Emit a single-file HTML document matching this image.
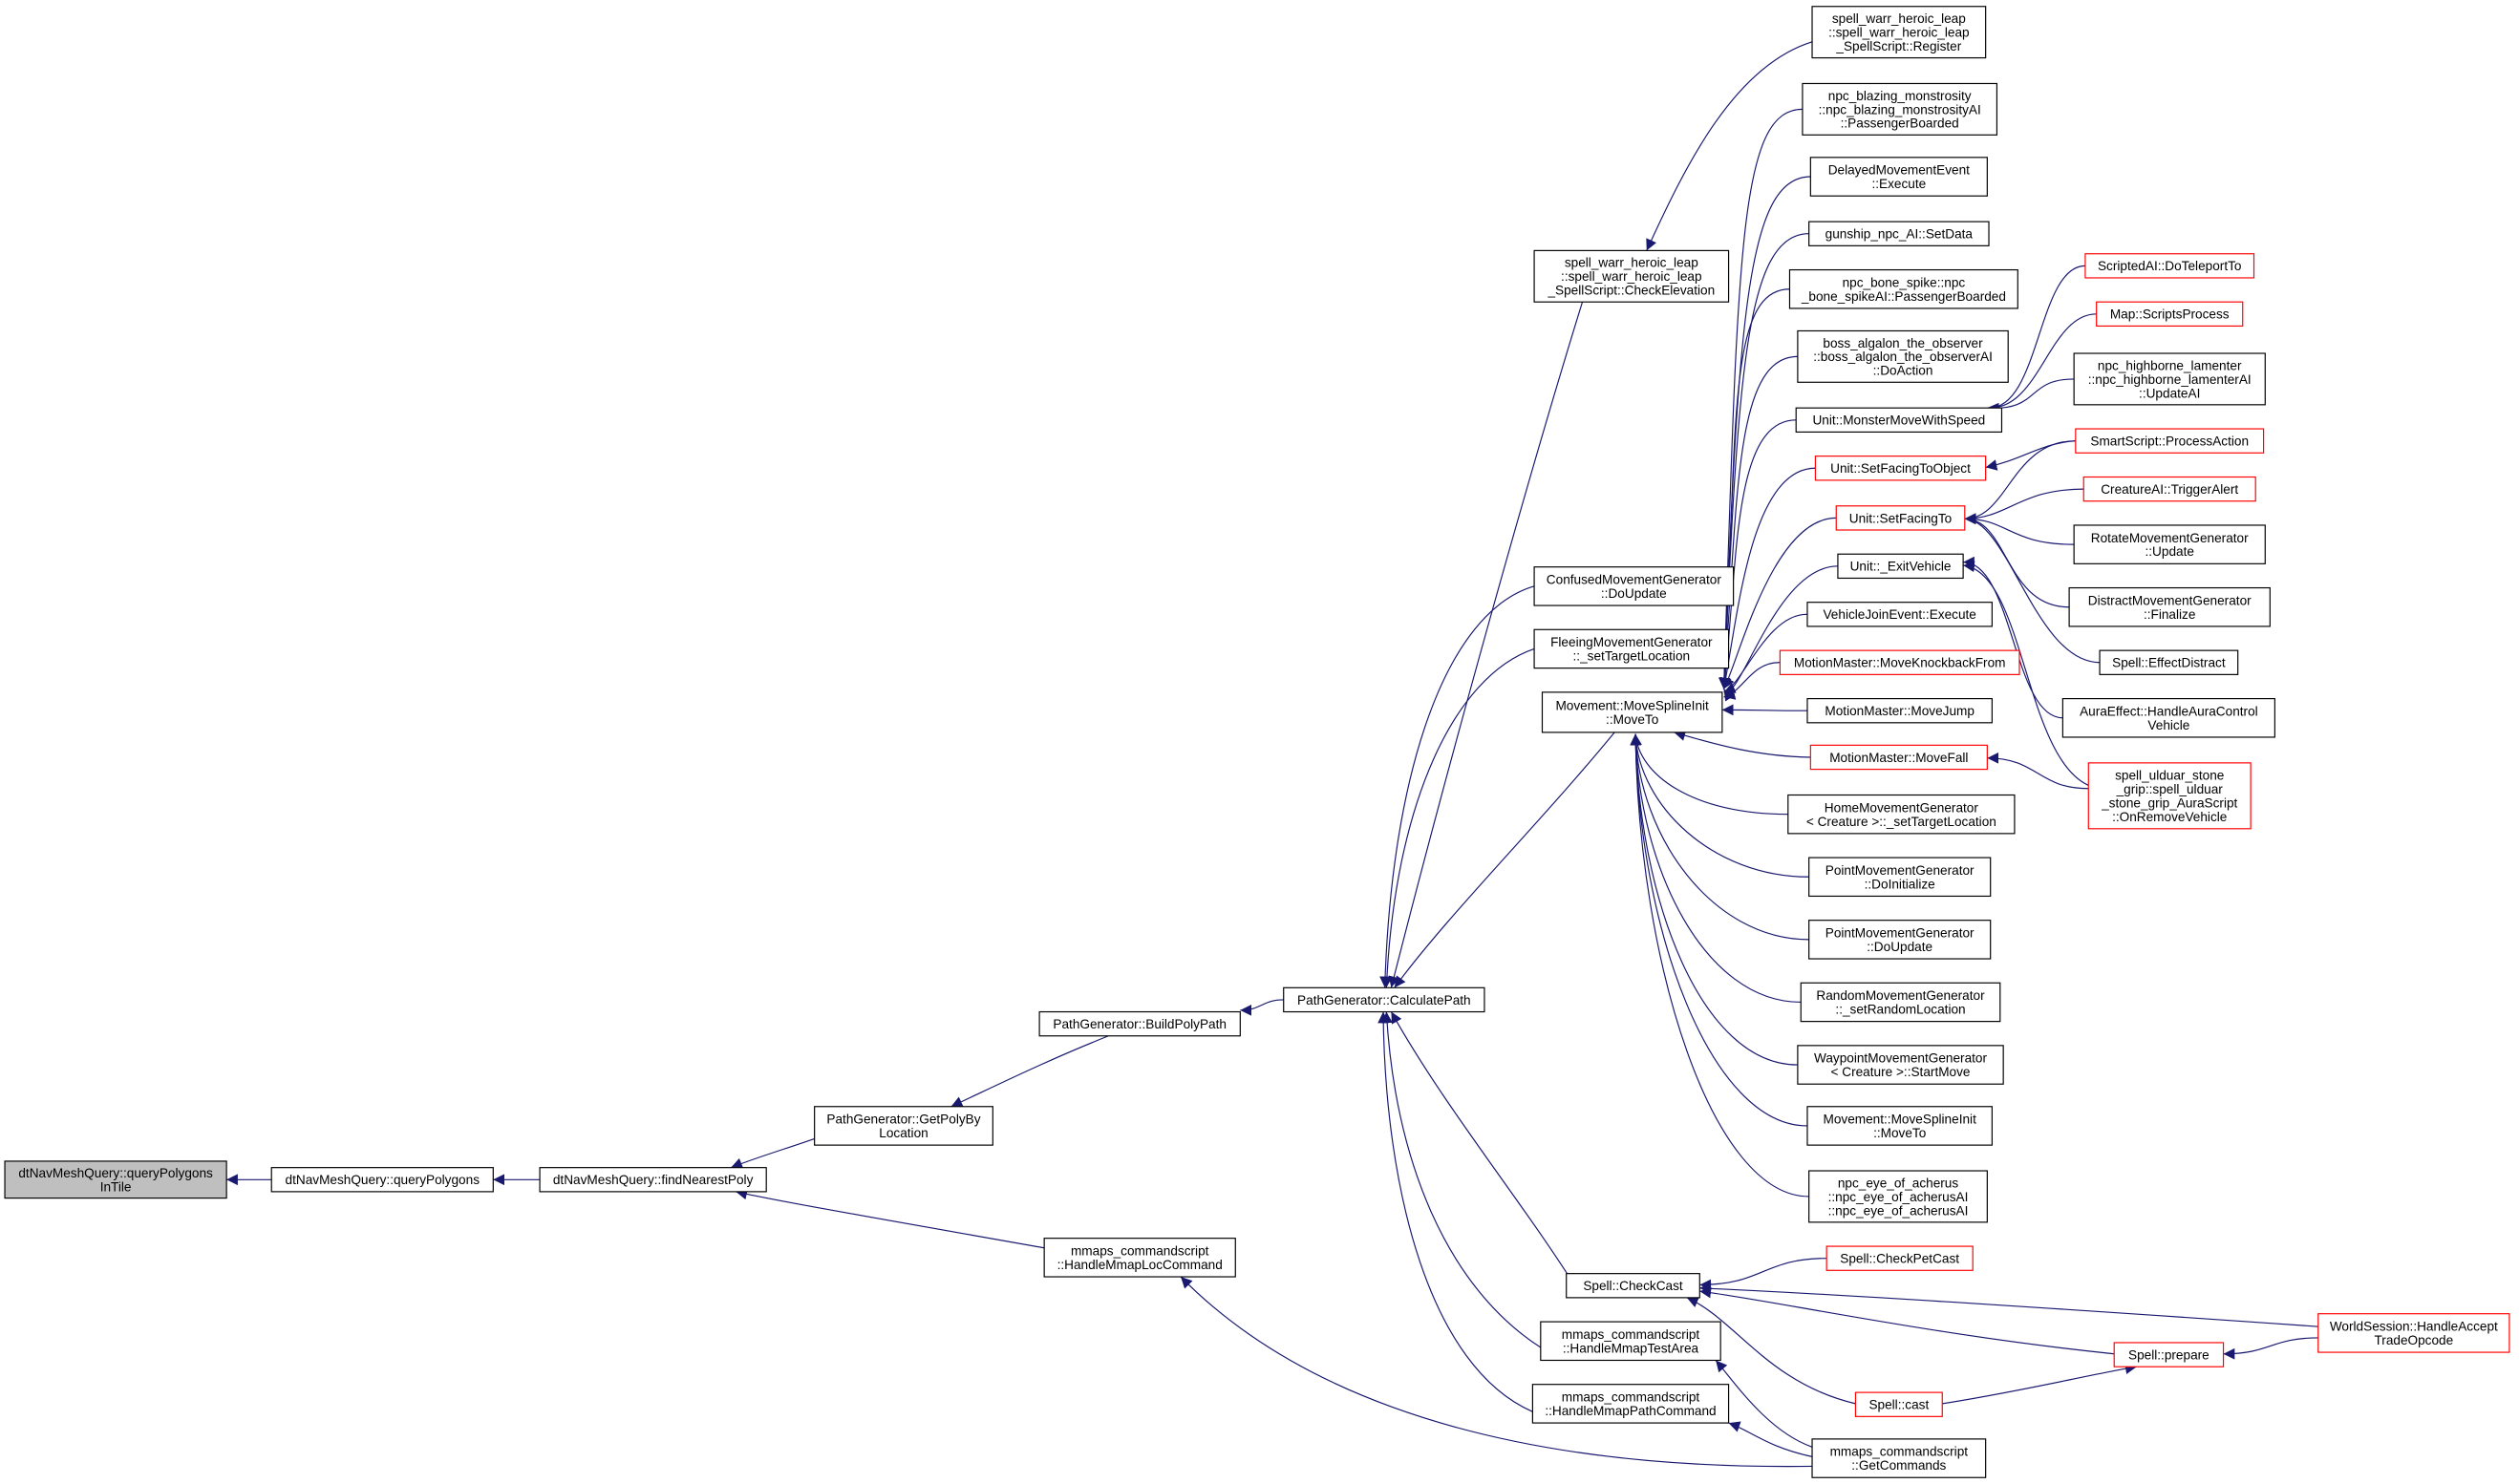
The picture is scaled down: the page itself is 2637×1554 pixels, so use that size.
<!DOCTYPE html>
<html><head><meta charset="utf-8">
<style>
html,body{margin:0;padding:0;background:#fff;}
svg{display:block;}
text{font-family:"Liberation Sans","DejaVu Sans",sans-serif;font-size:8.1px;fill:#000;}
</style></head>
<body>
<svg id="g" width="2637" height="1554" viewBox="0 0 1568 922" xmlns="http://www.w3.org/2000/svg">
<defs>
<marker id="ah" viewBox="0 0 10 10" refX="10" refY="5" markerWidth="7" markerHeight="7" markerUnits="userSpaceOnUse" orient="auto">
<path d="M0,0 L10,5 L0,10 z" fill="#191970"/>
</marker>
</defs>
<g id="edges"></g>
<g id="nodes"></g>
</svg>
<script>
var N={
A:[3,722,141,745,"dtNavMeshQuery::queryPolygons|InTile","g"],
B:[169,726,307,741,"dtNavMeshQuery::queryPolygons"],
C:[336,726,477,741,"dtNavMeshQuery::findNearestPoly"],
D:[507,688,618,712,"PathGenerator::GetPolyBy|Location"],
E:[650,770,769,794,"mmaps_commandscript|::HandleMmapLocCommand"],
F:[647,629,772,644,"PathGenerator::BuildPolyPath"],
G:[799,614,924,629,"PathGenerator::CalculatePath"],
H:[955,155,1076,187,"spell_warr_heroic_leap|::spell_warr_heroic_leap|_SpellScript::CheckElevation"],
I:[955,352,1079,376,"ConfusedMovementGenerator|::DoUpdate"],
J:[955,391,1076,415,"FleeingMovementGenerator|::_setTargetLocation"],
K:[960,430,1072,455,"Movement::MoveSplineInit|::MoveTo"],
L:[975,792,1058,807,"Spell::CheckCast"],
M:[959,822,1071,846,"mmaps_commandscript|::HandleMmapTestArea"],
Nn:[954,861,1076,885,"mmaps_commandscript|::HandleMmapPathCommand"],
O:[1128,3,1236,35,"spell_warr_heroic_leap|::spell_warr_heroic_leap|_SpellScript::Register"],
P:[1122,51,1243,83,"npc_blazing_monstrosity|::npc_blazing_monstrosityAI|::PassengerBoarded"],
Q:[1127,97,1237,121,"DelayedMovementEvent|::Execute"],
R:[1126,137,1238,152,"gunship_npc_AI::SetData"],
S:[1114,167,1256,191,"npc_bone_spike::npc|_bone_spikeAI::PassengerBoarded"],
T:[1119,205,1250,237,"boss_algalon_the_observer|::boss_algalon_the_observerAI|::DoAction"],
U:[1118,253,1246,268,"Unit::MonsterMoveWithSpeed"],
V:[1130,283,1236,298,"Unit::SetFacingToObject","r"],
W:[1143,314,1223,329,"Unit::SetFacingTo","r"],
X:[1144,344,1222,359,"Unit::_ExitVehicle"],
Y:[1125,374,1240,389,"VehicleJoinEvent::Execute"],
Z:[1108,404,1257,419,"MotionMaster::MoveKnockbackFrom","r"],
AA:[1125,434,1240,449,"MotionMaster::MoveJump"],
AB:[1127,463,1237,478,"MotionMaster::MoveFall","r"],
AC:[1113,494,1254,518,"HomeMovementGenerator|< Creature >::_setTargetLocation"],
AD:[1126,533,1239,557,"PointMovementGenerator|::DoInitialize"],
AE:[1126,572,1239,596,"PointMovementGenerator|::DoUpdate"],
AF:[1121,611,1245,635,"RandomMovementGenerator|::_setRandomLocation"],
AG:[1119,650,1247,674,"WaypointMovementGenerator|< Creature >::StartMove"],
AH:[1125,688,1240,712,"Movement::MoveSplineInit|::MoveTo"],
AI:[1126,728,1237,760,"npc_eye_of_acherus|::npc_eye_of_acherusAI|::npc_eye_of_acherusAI"],
AJ:[1137,775,1228,790,"Spell::CheckPetCast","r"],
AK:[1155,866,1209,881,"Spell::cast","r"],
AL:[1128,895,1236,919,"mmaps_commandscript|::GetCommands"],
AM:[1298,157,1403,172,"ScriptedAI::DoTeleportTo","r"],
AN:[1305,187,1396,202,"Map::ScriptsProcess","r"],
AO:[1291,219,1410,251,"npc_highborne_lamenter|::npc_highborne_lamenterAI|::UpdateAI"],
AP:[1292,266,1409,281,"SmartScript::ProcessAction","r"],
AQ:[1297,296,1404,311,"CreatureAI::TriggerAlert","r"],
AR:[1291,326,1410,350,"RotateMovementGenerator|::Update"],
AS:[1288,365,1413,389,"DistractMovementGenerator|::Finalize"],
AT:[1307,404,1393,419,"Spell::EffectDistract"],
AU:[1284,434,1416,458,"AuraEffect::HandleAuraControl|Vehicle"],
AV:[1300,474,1401,515,"spell_ulduar_stone|_grip::spell_ulduar|_stone_grip_AuraScript|::OnRemoveVehicle","r"],
AW:[1316,835,1384,850,"Spell::prepare","r"],
AX:[1443,817,1562,841,"WorldSession::HandleAccept|TradeOpcode","r"]
};
function lm(id){var n=N[id];return [n[0],(n[1]+n[3])/2];}
// edges: [sx,sy,c1x,c1y,c2x,c2y,tx,ty]
var E=[];
function h(s,t){var dx=(s[0]-t[0])*0.5;E.push([s[0],s[1],s[0]-dx,s[1],t[0]+dx,t[1],t[0],t[1]]);}
function c(s,c1,c2,t){E.push([s[0],s[1],c1[0],c1[1],c2[0],c2[1],t[0],t[1]]);}
h(lm('B'),[141,733.5]);
h(lm('C'),[307,733.5]);
c([507,708],[490,714],[470,720],[455,726]);
c([650,776],[560,760],[490,748],[458,741]);
c([690,644],[650,660],[620,675],[592,688]);
h(lm('G'),[772,628]);
// to G top
c([985,187],[950,300],[900,480],[866,614]);
c([955,364],[900,380],[866,480],[862,614]);
c([955,403],[905,420],[868,500],[863,614]);
c([1005,455],[960,510],[900,570],[868,614]);
// to G bottom
c([985,807],[950,750],[900,690],[866,629]);
c([959,838],[900,800],[868,720],[863,629]);
c([954,878],[890,850],[862,740],[861,629]);
c([1128,25],[1080,40],[1050,100],[1025,155]);
// to K top-right
var up=['P','Q','R','S','T','U','V','W','X'];
up.forEach(function(k){var s=lm(k);c(s,[s[0]-40,s[1]],[1082,s[1]+60>420?415:s[1]+90],[1073,428]);});
c(lm('Y'),[1100,381],[1085,425],[1073,430]);
c(lm('Z'),[1090,411],[1085,430],[1073,433]);
h(lm('AA'),[1072,441]);
c(lm('AB'),[1090,470],[1060,460],[1042,455]);
['AC','AD','AE','AF','AG','AH','AI'].forEach(function(k){var s=lm(k);c(s,[s[0]-60,s[1]],[1020,s[1]-(s[1]-456)*0.5],[1018,456]);});
// to U
['AM','AN','AO'].forEach(function(k){var s=lm(k);c(s,[s[0]-30,s[1]],[1270,255],[1237,253]);});
c(lm('AP'),[1270,275],[1260,285],[1236,290]);
['AP','AQ','AR','AS','AT'].forEach(function(k){var s=lm(k);c(s,[s[0]-40,s[1]],[1250,322],[1223,322]);});
c([1300,488],[1260,470],[1260,355],[1222,351]);
h(lm('AU'),[1222,349]);
h([1300,490],[1237,471]);
// to L
h(lm('AJ'),[1058,799]);
c([1443,825],[1300,815],[1150,805],[1058,801]);
c([1316,842],[1200,830],[1100,808],[1058,803]);
c([1155,873],[1100,860],[1080,820],[1050,807]);
h([1443,832],[1384,842]);
c([1209,873],[1260,865],[1300,855],[1330,850]);
c([1128,900],[1100,890],[1080,860],[1068,846]);
c([1128,906],[1100,900],[1090,890],[1076,885]);
c([1128,912],[900,915],[790,850],[735,794]);
var ns="http://www.w3.org/2000/svg";
var ge=document.getElementById('edges'),gn=document.getElementById('nodes');
E.forEach(function(e){var p=document.createElementNS(ns,'path');
p.setAttribute('d','M'+e[0]+','+e[1]+' C'+e[2]+','+e[3]+' '+e[4]+','+e[5]+' '+e[6]+','+e[7]);
p.setAttribute('fill','none');p.setAttribute('stroke','#191970');p.setAttribute('stroke-width','0.7');
p.setAttribute('marker-end','url(#ah)');ge.appendChild(p);});
for(var k in N){var n=N[k];var r=document.createElementNS(ns,'rect');
r.setAttribute('x',n[0]);r.setAttribute('y',n[1]);r.setAttribute('width',n[2]-n[0]);r.setAttribute('height',n[3]-n[1]);
r.setAttribute('fill',n[5]=='g'?'#bfbfbf':'#fff');r.setAttribute('stroke',n[5]=='r'?'#ff0000':'#000');r.setAttribute('stroke-width','0.7');
gn.appendChild(r);
var L=n[4].split('|');var cy=(n[1]+n[3])/2,cx=(n[0]+n[2])/2;
L.forEach(function(t,i){var tx=document.createElementNS(ns,'text');
tx.setAttribute('x',cx);tx.setAttribute('y',cy+(i-(L.length-1)/2)*8.6+2.9);tx.setAttribute('text-anchor','middle');
tx.textContent=t;gn.appendChild(tx);});}
</script>
</body></html>
